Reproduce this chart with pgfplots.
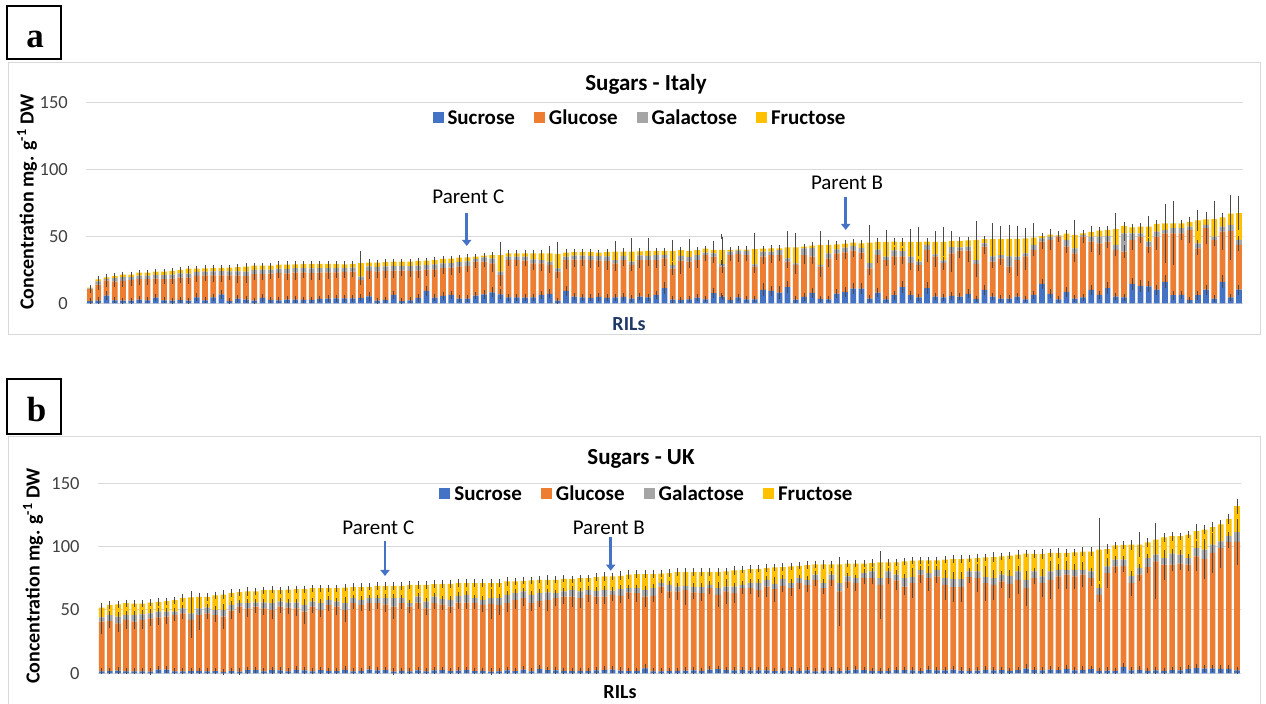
\documentclass[border=0pt]{standalone}
\usepackage{pgfplots}
\usepackage{pgfplotstable}
\pgfplotsset{compat=1.18}
\usetikzlibrary{arrows.meta}
\usepackage{fontspec}
\setmainfont{Carlito}
\newfontfamily\serifbold{Liberation Serif}
\definecolor{cSuc}{HTML}{4472C4}
\definecolor{cGlu}{HTML}{ED7D31}
\definecolor{cGal}{HTML}{A5A5A5}
\definecolor{cFru}{HTML}{FFC000}
\definecolor{cGrid}{HTML}{D9D9D9}
\definecolor{cErr}{HTML}{4A4A4A}
\definecolor{cRil}{HTML}{1F3864}
\definecolor{cTick}{HTML}{404040}

\pgfplotstableread{
i s g a f es eg ea ef
0 1.7 8.8 0.6 0.6 0.5 1.0 0.3 0.3
1 2.0 12.0 2.4 1.5 0.6 2.0 0.5 0.4
2 5.7 11.2 1.3 1.2 1.5 3.0 0.5 0.4
3 2.2 14.0 2.6 1.6 0.5 2.0 0.5 0.4
4 2.0 14.8 2.8 1.8 0.5 2.5 0.5 0.4
5 2.0 15.2 2.4 1.8 0.5 2.5 0.5 0.4
6 2.7 15.5 2.5 2.2 0.8 3.0 0.5 0.4
7 2.2 15.8 2.6 2.3 0.5 2.5 0.5 0.4
8 4.2 14.2 2.8 2.4 1.0 2.5 0.5 0.5
9 2.2 15.9 2.9 2.6 0.5 2.0 0.5 0.5
10 2.0 16.4 3.0 2.7 0.5 2.0 0.5 0.5
11 2.5 16.6 3.2 2.6 0.6 2.5 0.6 0.5
12 2.0 17.2 3.0 3.7 0.5 3.0 0.5 0.5
13 4.5 16.0 3.0 2.4 1.2 3.0 0.5 0.5
14 2.2 18.6 2.8 2.5 0.5 2.5 0.5 0.5
15 4.5 16.3 3.0 2.6 1.0 3.0 0.5 0.5
16 6.7 14.2 3.1 2.4 1.5 3.5 0.6 0.5
17 1.7 19.2 3.0 2.7 0.4 2.0 0.5 0.5
18 3.5 17.2 3.2 3.0 1.0 3.5 0.6 0.5
19 2.7 17.6 3.3 3.8 0.6 3.0 0.6 0.6
20 2.0 19.8 3.2 3.1 0.5 2.5 0.5 0.5
21 4.0 17.8 3.4 2.9 1.0 3.0 0.6 0.5
22 2.5 19.7 3.0 2.9 0.5 2.5 0.5 0.5
23 2.2 20.5 3.2 3.0 0.5 2.0 0.5 0.5
24 2.7 19.6 3.4 3.2 0.6 3.0 0.6 0.5
25 2.7 20.2 3.3 2.9 0.6 3.5 0.6 0.5
26 2.5 20.5 3.3 3.1 0.6 2.5 0.6 0.5
27 2.5 20.0 3.5 3.4 0.6 3.0 0.6 0.6
28 3.2 19.6 3.4 3.2 0.8 3.5 0.6 0.5
29 3.5 19.5 3.3 3.1 0.8 3.0 0.6 0.5
30 3.7 19.3 3.2 3.2 0.8 2.5 0.6 0.5
31 3.7 19.8 3.0 2.6 0.8 2.5 0.6 0.5
32 3.7 19.9 3.1 2.7 0.8 2.5 0.6 0.5
33 4.0 13.4 2.5 10.0 0.8 2.0 1.0 7.0
34 5.2 19.0 3.3 2.8 1.5 4.0 0.6 0.6
35 2.0 21.8 3.4 3.1 0.5 3.0 0.6 0.5
36 2.5 21.6 3.5 3.2 0.6 3.5 0.6 0.5
37 6.2 18.1 3.6 3.2 1.5 3.5 0.6 0.5
38 1.7 22.6 3.6 3.2 0.4 2.5 0.6 0.5
39 2.2 21.9 3.7 3.3 0.5 2.5 0.6 0.5
40 4.0 20.3 3.8 3.5 1.0 3.5 0.6 0.6
41 9.2 16.0 3.4 3.2 2.0 3.0 0.6 0.5
42 4.2 21.2 3.6 3.3 1.0 4.0 0.6 0.5
43 5.5 20.8 3.5 3.3 1.5 3.0 0.6 0.5
44 6.2 20.4 3.4 3.3 1.5 3.5 0.6 0.5
45 3.5 24.0 3.3 3.3 0.8 3.0 0.6 0.5
46 3.5 24.3 3.4 3.1 0.8 3.0 0.6 0.5
47 5.7 25.3 2.2 1.6 1.0 3.0 0.6 0.5
48 6.7 24.3 3.3 1.3 1.5 2.5 0.6 0.5
49 8.2 21.6 3.8 2.4 2.0 5.0 0.8 0.6
50 6.7 14.3 2.6 12.4 2.0 6.0 1.0 8.0
51 4.5 27.8 2.5 2.5 0.8 3.0 0.6 0.5
52 4.5 27.8 2.5 2.5 0.8 2.5 0.6 0.5
53 4.2 27.6 3.0 2.5 0.8 2.0 0.6 0.5
54 4.5 25.3 3.0 4.5 0.8 3.0 0.6 0.8
55 6.2 23.6 2.5 5.0 1.5 4.0 0.6 1.0
56 7.0 21.6 2.5 6.2 1.5 4.0 0.8 4.0
57 2.0 21.6 2.4 10.8 0.5 3.0 0.6 7.0
58 9.2 23.1 2.5 3.0 2.0 5.0 0.6 0.6
59 5.0 27.5 3.0 2.6 1.0 4.0 0.6 0.5
60 4.5 28.3 2.7 2.8 0.8 3.0 0.6 0.5
61 4.0 28.3 3.0 3.0 0.8 4.0 0.6 0.5
62 4.7 27.3 3.2 2.6 1.0 3.0 0.6 0.5
63 4.0 27.5 3.6 3.0 0.8 5.0 0.6 0.5
64 4.5 25.3 2.5 6.3 1.0 4.0 0.6 6.0
65 4.7 27.6 3.0 3.3 1.0 3.0 0.6 0.5
66 3.5 25.1 2.5 7.5 0.8 3.0 0.6 8.0
67 5.0 27.3 3.5 3.0 1.0 4.0 0.6 0.5
68 4.5 27.8 3.0 3.8 1.0 3.0 0.6 8.0
69 6.2 26.1 3.6 3.2 1.5 4.0 0.6 0.5
70 11.4 22.2 2.6 2.9 3.0 4.0 0.6 0.5
71 2.7 23.3 2.6 10.5 0.6 3.0 0.6 6.0
72 2.5 29.4 3.4 4.3 0.6 8.0 0.6 0.8
73 3.0 28.1 3.6 4.4 0.6 3.0 0.6 7.0
74 4.2 28.1 3.6 3.7 1.0 4.0 0.6 0.6
75 3.0 33.0 1.8 3.0 0.6 3.0 0.6 0.5
76 7.5 27.3 2.5 2.5 2.0 3.0 0.6 5.0
77 5.0 22.4 2.0 10.4 1.0 3.0 0.6 10.0
78 2.5 33.5 2.5 1.3 0.6 3.0 0.6 0.5
79 4.5 32.3 2.5 0.8 1.0 4.0 0.6 0.5
80 3.0 33.0 3.2 0.9 0.6 3.0 0.6 0.5
81 3.0 24.4 1.7 11.4 0.6 3.0 0.6 10.0
82 10.0 24.8 3.8 2.2 3.0 4.0 0.8 0.5
83 9.2 26.8 2.5 2.5 2.0 4.0 0.6 0.5
84 8.0 28.0 3.7 1.3 3.0 3.0 0.6 0.5
85 12.0 19.0 2.6 8.2 2.5 3.0 0.6 10.0
86 2.7 25.9 1.2 12.0 0.6 5.0 0.6 9.0
87 4.7 31.3 5.0 1.3 1.0 5.0 0.8 0.5
88 7.7 27.2 6.2 1.9 2.0 4.0 1.0 0.6
89 3.2 24.2 1.2 14.9 0.8 6.0 0.6 9.0
90 3.0 30.6 3.7 6.2 0.6 5.0 0.6 2.0
91 7.2 30.1 3.0 3.7 1.5 3.0 0.6 0.8
92 8.5 29.5 3.5 3.0 2.0 3.0 0.8 0.6
93 11.0 28.3 3.5 2.5 2.0 3.0 0.8 0.6
94 11.0 26.8 3.3 3.7 2.0 3.0 0.8 0.8
95 3.5 22.5 4.0 15.3 0.8 3.0 0.8 11.0
96 8.0 28.0 4.0 5.8 1.5 4.0 0.8 1.0
97 3.0 29.3 2.5 11.0 0.6 3.0 0.6 7.0
98 6.0 29.0 4.5 6.5 1.5 5.0 0.8 1.0
99 12.0 23.0 4.0 6.8 2.5 4.0 0.8 1.0
100 6.0 24.0 4.8 11.0 1.5 3.0 0.8 8.0
101 4.5 24.1 2.4 14.8 1.0 3.0 0.6 9.0
102 11.4 28.4 3.7 2.5 2.5 7.0 0.8 0.6
103 5.0 30.0 1.5 9.3 1.0 6.0 0.6 6.0
104 4.5 25.5 2.0 13.8 1.0 3.0 0.6 9.0
105 5.5 31.8 4.7 4.5 1.0 12.0 0.8 6.0
106 5.0 34.3 2.5 4.7 1.0 4.0 0.6 1.0
107 7.0 32.3 3.0 4.7 1.5 7.0 0.6 1.0
108 3.2 26.2 2.9 15.0 0.8 8.0 0.6 12.0
109 10.0 32.3 2.5 3.0 2.0 4.0 0.6 0.6
110 5.0 26.0 4.0 12.8 1.0 3.0 0.8 10.0
111 3.5 30.1 2.4 11.8 0.8 3.0 0.6 8.0
112 3.5 23.9 7.6 13.0 0.8 3.0 1.5 9.0
113 5.0 27.3 2.5 13.2 1.0 10.0 0.6 8.0
114 3.0 32.0 2.3 11.2 0.6 8.0 0.6 6.0
115 6.2 33.6 3.7 5.5 1.5 3.0 0.8 9.0
116 14.4 31.6 2.5 1.7 2.0 4.0 0.6 0.5
117 7.0 40.3 2.5 1.4 1.5 6.0 0.6 0.5
118 3.0 46.8 0.5 0.4 0.6 2.0 0.3 0.3
119 8.5 33.8 5.0 4.7 2.0 3.0 0.8 1.0
120 3.5 33.8 3.7 10.0 0.8 5.0 0.8 9.0
121 4.5 45.3 1.2 1.2 1.0 3.0 0.5 0.5
122 10.0 36.0 3.8 3.4 2.0 6.0 0.8 3.0
123 6.2 38.6 5.0 4.4 1.5 7.0 0.8 1.0
124 11.4 34.6 4.2 4.5 2.5 3.0 0.8 1.0
125 5.0 34.8 3.7 12.0 1.0 3.0 0.8 10.0
126 4.5 34.1 13.6 5.5 1.0 3.0 4.0 1.0
127 14.4 32.9 4.9 4.5 3.0 6.0 0.8 1.0
128 13.0 36.8 2.4 5.0 2.5 3.0 0.6 1.0
129 12.7 29.6 3.7 11.2 2.5 3.0 0.8 6.0
130 10.2 39.6 3.7 5.7 2.0 8.0 0.8 1.0
131 16.0 36.2 2.5 5.0 3.0 20.0 0.6 1.0
132 6.0 46.2 3.8 3.7 1.5 22.0 0.8 1.0
133 6.2 46.0 3.8 3.7 1.5 3.0 0.8 1.0
134 2.5 52.2 2.5 3.5 0.6 8.0 0.6 1.0
135 6.0 35.0 3.8 17.1 1.5 3.0 0.8 6.0
136 10.2 45.8 2.5 4.2 2.0 10.0 0.6 1.0
137 3.5 43.8 2.5 13.1 0.8 3.0 0.6 12.0
138 16.0 37.5 3.7 7.0 3.0 12.0 0.8 1.0
139 4.5 49.5 4.5 8.4 1.0 20.0 0.8 12.0
140 10.2 33.3 3.8 19.9 2.0 3.0 0.8 11.0
}\dataA

\pgfplotstableread{
i s g a f es eg ea ef
0 1.5 39.2 3.5 7.7 0.5 8.0 1.5 2.0
1 1.8 39.5 4.7 8.0 0.5 4.0 1.2 1.0
2 2.2 37.2 5.3 9.8 0.8 5.0 1.5 1.0
3 1.5 40.6 3.9 9.3 0.5 5.0 1.2 1.0
4 1.5 39.2 5.3 9.0 0.5 4.0 1.2 1.0
5 1.6 40.5 4.5 8.4 0.5 5.0 1.2 1.0
6 1.4 42.0 4.0 8.4 0.5 4.0 1.2 1.0
7 2.8 41.4 4.5 7.6 0.8 4.0 1.2 1.5
8 2.9 41.8 4.0 8.2 0.8 4.0 1.2 1.0
9 1.6 44.4 2.7 9.0 0.5 3.0 1.0 1.0
10 1.5 45.9 3.9 8.2 0.5 3.0 1.0 1.0
11 1.8 40.3 5.3 12.6 0.5 12.0 1.5 3.0
12 2.0 44.0 5.3 9.0 0.6 10.0 1.2 1.5
13 1.5 45.9 4.5 8.4 0.5 3.0 1.2 1.0
14 1.7 44.3 4.0 11.6 0.5 4.0 1.2 1.0
15 1.2 43.5 5.3 12.2 0.4 8.0 1.2 1.5
16 1.8 47.7 4.5 9.5 0.5 5.0 1.2 1.0
17 1.4 51.2 2.7 8.7 0.5 3.0 1.0 1.0
18 2.5 48.8 4.0 9.3 0.8 5.0 1.2 1.5
19 2.6 50.0 3.2 8.8 0.8 3.0 1.0 1.0
20 1.5 49.8 4.5 9.8 0.5 3.0 1.2 1.0
21 2.5 47.5 5.3 10.6 0.8 5.0 1.2 1.0
22 2.4 50.2 4.0 9.0 0.8 3.0 1.2 1.0
23 1.6 50.3 3.9 10.3 0.5 3.0 1.0 1.0
24 2.7 48.6 4.5 10.6 0.8 4.0 1.2 1.0
25 2.4 46.3 5.3 12.4 0.8 8.0 1.2 1.0
26 1.5 51.1 4.0 10.6 0.5 3.0 1.0 1.0
27 2.5 47.5 5.3 11.9 0.8 4.0 1.2 1.0
28 2.0 52.0 3.9 9.3 0.6 3.0 1.0 1.0
29 1.8 50.8 4.0 10.6 0.5 5.0 1.0 1.0
30 2.7 47.3 5.3 12.4 0.8 8.0 1.2 1.0
31 1.5 53.8 4.0 8.7 0.5 3.0 1.0 1.0
32 2.0 52.0 3.9 10.1 0.6 3.0 1.0 1.0
33 2.8 52.5 4.0 9.0 0.8 4.0 1.0 1.0
34 2.4 52.9 4.0 9.7 0.8 3.0 1.0 1.0
35 2.6 51.9 4.8 9.7 0.8 4.0 1.2 1.0
36 1.4 51.2 6.7 9.7 0.5 8.0 1.5 1.0
37 2.0 53.3 4.0 9.7 0.6 3.0 1.0 1.0
38 1.6 51.0 2.7 14.5 0.5 3.0 1.0 1.0
39 2.3 53.5 4.8 9.2 0.8 3.0 1.2 1.0
40 1.5 49.8 5.3 13.2 0.5 3.0 1.2 1.0
41 2.4 52.9 5.3 9.8 0.8 3.0 1.2 1.0
42 2.6 51.9 4.0 12.1 0.8 3.0 1.0 1.0
43 1.8 50.8 5.3 12.7 0.5 3.0 1.2 1.0
44 2.2 53.6 5.3 10.1 0.6 3.0 1.2 1.0
45 2.6 53.2 6.1 9.3 0.8 3.0 1.2 1.0
46 1.8 53.5 4.0 11.9 0.5 3.0 1.0 1.0
47 2.0 52.0 3.9 13.3 0.6 4.0 1.0 1.5
48 1.4 53.4 4.5 11.9 0.5 10.0 1.2 1.5
49 1.6 52.4 5.3 11.9 0.5 6.0 1.2 1.0
50 2.3 53.0 6.6 10.6 0.8 5.0 1.5 2.0
51 1.7 56.2 5.3 9.3 0.5 5.0 1.2 1.0
52 2.8 56.5 5.3 8.4 0.8 4.0 1.2 1.0
53 1.5 53.8 6.6 11.4 0.5 4.0 1.5 1.0
54 3.5 53.6 6.1 10.6 1.0 3.0 1.2 1.0
55 2.6 55.3 5.9 10.0 0.8 7.0 1.2 2.0
56 2.3 57.0 3.9 10.6 0.8 4.0 1.0 1.0
57 1.9 58.7 4.0 10.0 0.5 4.0 1.0 1.0
58 1.7 58.9 5.3 8.4 0.5 6.0 1.2 1.0
59 2.0 57.3 5.3 10.5 0.6 6.0 1.2 1.0
60 1.8 60.1 4.0 9.2 0.5 4.0 1.0 1.0
61 2.4 58.2 4.5 10.8 0.8 4.0 1.2 1.0
62 2.7 57.9 5.3 10.6 0.8 4.0 1.2 1.5
63 2.8 59.1 3.4 11.2 0.8 3.0 1.0 1.0
64 2.2 58.9 5.3 10.6 0.8 4.0 1.2 1.5
65 1.8 62.0 3.4 10.6 0.5 3.0 1.0 1.5
66 1.9 61.3 4.0 11.1 0.5 5.0 1.0 1.0
67 3.8 56.8 5.3 12.4 1.5 6.0 1.2 1.0
68 1.6 59.5 6.1 11.1 0.5 3.0 1.5 1.0
69 1.5 67.0 2.7 7.4 0.5 3.0 1.0 1.0
70 1.7 62.9 5.2 9.3 0.5 3.0 1.2 1.0
71 1.9 62.7 3.9 11.4 0.5 5.0 1.0 1.0
72 2.1 63.8 3.1 10.9 0.6 10.0 1.0 1.0
73 2.3 61.5 4.2 11.9 0.8 3.0 1.2 1.0
74 2.0 61.2 4.8 11.9 0.6 4.0 1.2 1.5
75 2.8 64.4 2.6 10.1 0.8 3.0 1.0 1.5
76 3.2 58.7 5.3 12.7 1.0 8.0 1.2 1.5
77 2.6 62.0 3.9 11.9 0.8 8.0 1.0 1.0
78 2.3 60.9 5.3 12.7 0.8 6.0 1.2 1.5
79 2.5 64.7 2.6 11.9 0.8 3.0 1.0 1.0
80 2.2 65.0 4.0 11.1 0.6 3.0 1.0 1.0
81 2.4 63.5 5.3 11.3 0.8 4.0 1.2 1.0
82 2.3 66.2 5.3 9.3 0.8 6.0 1.2 1.0
83 1.8 64.6 4.2 13.0 0.5 8.0 1.2 1.0
84 2.0 67.0 5.3 9.6 0.6 3.0 1.2 1.0
85 2.2 65.0 4.0 13.2 0.6 4.0 1.0 1.0
86 1.9 69.3 3.9 9.8 0.5 3.0 1.0 1.0
87 2.4 67.4 4.0 11.6 0.8 4.0 1.0 1.0
88 1.6 72.2 4.0 8.2 0.5 3.0 1.0 1.0
89 2.0 65.2 4.0 14.8 0.6 3.0 1.0 1.5
90 2.2 71.6 4.0 8.2 0.6 3.0 1.0 1.0
91 1.8 62.8 6.6 14.8 0.5 25.0 1.5 2.0
92 2.4 70.1 4.0 10.0 0.8 3.0 1.0 1.0
93 2.8 68.4 3.9 11.4 0.8 4.0 1.0 1.0
94 2.6 72.5 4.0 7.4 0.8 3.0 1.0 1.0
95 2.0 73.1 5.3 6.6 0.6 3.0 1.2 1.0
96 1.8 68.0 5.3 12.5 0.5 25.0 1.2 1.0
97 1.9 73.2 5.3 7.2 0.5 3.0 1.2 1.0
98 2.6 70.7 4.5 9.8 0.8 6.0 1.2 1.0
99 2.6 65.9 6.6 13.3 0.8 5.0 1.5 1.0
100 2.4 68.8 4.7 13.0 0.8 10.0 1.2 1.0
101 1.8 76.0 3.9 7.5 0.5 5.0 1.0 1.0
102 2.8 72.3 4.0 10.1 0.8 8.0 1.0 1.0
103 2.4 74.1 5.2 7.5 0.8 3.0 1.2 1.0
104 2.3 67.5 5.3 14.6 0.8 10.0 1.2 1.0
105 2.9 65.1 6.3 15.9 0.8 10.0 1.5 1.0
106 2.2 65.8 6.3 15.9 0.8 10.0 1.5 1.0
107 2.0 73.9 4.5 10.1 0.6 3.0 1.2 1.0
108 2.2 72.9 5.3 10.6 0.8 9.0 1.2 1.5
109 2.7 68.5 4.7 15.6 0.8 12.0 1.2 1.0
110 2.3 67.5 5.3 16.7 0.8 10.0 1.2 2.0
111 2.5 70.0 5.3 14.5 0.8 3.0 1.2 1.0
112 2.0 68.6 6.4 15.9 0.6 9.0 1.5 1.0
113 2.6 71.2 6.6 13.3 0.8 9.0 1.5 1.5
114 3.6 63.6 6.6 20.6 1.5 12.0 1.5 1.0
115 2.5 72.6 5.3 13.8 0.8 3.0 1.2 1.0
116 2.3 68.9 5.3 17.7 0.8 9.0 1.2 2.0
117 2.9 70.9 6.6 14.6 0.8 13.0 1.5 1.0
118 2.6 73.9 5.2 13.3 0.8 8.0 1.2 2.0
119 3.5 74.3 3.9 13.3 1.5 9.0 1.0 1.0
120 2.4 74.1 5.2 13.8 0.8 8.0 1.2 1.0
121 2.7 75.1 3.9 14.3 0.8 8.0 1.0 1.5
122 3.2 71.9 5.3 15.6 1.0 4.0 1.2 1.5
123 2.0 59.9 5.3 30.4 0.6 4.0 1.5 23.0
124 2.2 76.9 5.3 13.7 0.6 10.0 1.2 2.0
125 2.0 82.4 5.3 11.3 0.6 3.0 1.2 1.0
126 5.0 79.9 4.8 11.6 1.5 3.0 1.2 1.0
127 2.4 68.8 5.8 24.6 0.8 8.0 1.5 2.0
128 2.7 75.1 5.3 18.5 0.8 3.0 1.2 8.0
129 2.0 81.9 7.1 12.4 0.6 3.0 1.5 1.5
130 2.4 86.0 5.3 11.9 0.8 28.0 1.2 2.0
131 1.9 83.8 5.3 16.4 0.6 10.0 1.2 1.5
132 2.6 83.1 8.7 13.8 0.8 3.0 2.0 1.5
133 2.4 84.1 7.2 14.5 0.8 3.0 1.5 1.0
134 3.5 82.2 5.3 18.5 1.0 3.0 1.2 1.0
135 4.0 88.3 6.6 13.3 1.5 10.0 1.5 4.0
136 3.6 86.6 7.4 15.9 1.0 14.0 1.5 2.0
137 3.8 91.2 6.6 13.7 1.0 14.0 1.5 2.0
138 3.5 95.4 5.3 13.3 1.0 14.0 1.2 1.5
139 3.4 100.3 4.5 13.8 1.0 3.0 1.2 2.0
140 2.4 101.3 7.7 20.6 0.8 16.0 2.0 4.0
}\dataB

\pgfplotsset{
  panel/.style={
    scale only axis, ybar stacked, bar width=0.7,
    xmin=-0.5, xmax=140.5, ymin=0, ymax=150,
    xtick=\empty, ytick={0,50,100,150},
    axis line style={draw=none},
    clip=false, anchor=south west,
  },
  shown/.style={
    ymajorgrids, grid style={color=cGrid, line width=1bp},
    tick align=outside, major tick length=18bp, ytick style={draw=none},
    /pgf/number format/assume math mode=true,
    yticklabel style={font=\fontsize{18.5bp}{18.5bp}\selectfont, text=cTick, anchor=east, inner sep=0pt},
    legend style={draw=none, fill=none, legend columns=4, anchor=center,
      font=\bfseries\fontsize{21bp}{21bp}\selectfont,
      column sep=0bp, nodes={inner xsep=4bp, inner ysep=0pt},
      /tikz/every even column/.append style={column sep=15bp}},
    legend image code/.code={\fill[##1] (0bp,-5.5bp) rectangle (11bp,5.5bp);},
  },
  errs/.style={
    hide axis, major tick length=0pt,
    error bars/y dir=both, error bars/y explicit,
    error bars/error bar style={draw=cErr, line width=0.9bp},
    error bars/error mark options={draw=cErr, line width=0.9bp, mark size=2.4bp},
  },
}

\begin{document}
\begin{tikzpicture}[x=1bp,y=1bp]
\useasboundingbox (0,0) rectangle (1266,704);
% frames
\draw[cGrid, line width=1bp] (8.3,641.7) rectangle (1260.3,369);
\draw[cGrid, line width=1bp] (8.3,267.3) rectangle (1260.7,-5);
\draw[black, line width=2bp] (6.7,644.7) rectangle (61,698.3);
\node[anchor=base, font=\serifbold\bfseries\fontsize{35bp}{35bp}\selectfont] at (35,656.7) {a};
\draw[black, line width=2bp] (6.7,270) rectangle (61,324.5);
\node[anchor=base, font=\serifbold\bfseries\fontsize{35bp}{35bp}\selectfont] at (36.5,282.3) {b};

% ---------- panel a ----------
\begin{axis}[panel, shown, at={(86bp,400.7bp)}, width=1157bp, height=201bp,
  legend style={at={(0.4797,0.922)}}]
\addplot[fill=cSuc, draw=none] table[x=i,y=s]{\dataA};
\addplot[fill=cGlu, draw=none] table[x=i,y=g]{\dataA};
\addplot[fill=cGal, draw=none] table[x=i,y=a]{\dataA};
\addplot[fill=cFru, draw=none] table[x=i,y=f]{\dataA};
\legend{Sucrose, Glucose, Galactose, Fructose}
\end{axis}
\begin{axis}[panel, errs, at={(86bp,400.7bp)}, width=1157bp, height=201bp]
\addplot[fill=none, draw=none] table[x=i,y=s,y error=es]{\dataA};
\addplot[fill=none, draw=none] table[x=i,y=g,y error=eg]{\dataA};
\addplot[fill=none, draw=none] table[x=i,y=a,y error=ea]{\dataA};
\addplot[fill=none, draw=none] table[x=i,y=f,y error=ef]{\dataA};
\end{axis}

% ---------- panel b ----------
\begin{axis}[panel, shown, at={(97.7bp,30.7bp)}, width=1143.3bp, height=190bp,
  legend style={at={(0.4813,0.9437)}}]
\addplot[fill=cSuc, draw=none] table[x=i,y=s]{\dataB};
\addplot[fill=cGlu, draw=none] table[x=i,y=g]{\dataB};
\addplot[fill=cGal, draw=none] table[x=i,y=a]{\dataB};
\addplot[fill=cFru, draw=none] table[x=i,y=f]{\dataB};
\legend{Sucrose, Glucose, Galactose, Fructose}
\end{axis}
\begin{axis}[panel, errs, at={(97.7bp,30.7bp)}, width=1143.3bp, height=190bp]
\addplot[fill=none, draw=none] table[x=i,y=s,y error=es]{\dataB};
\addplot[fill=none, draw=none] table[x=i,y=g,y error=eg]{\dataB};
\addplot[fill=none, draw=none] table[x=i,y=a,y error=ea]{\dataB};
\addplot[fill=none, draw=none] table[x=i,y=f,y error=ef]{\dataB};
\end{axis}

% ---------- texts ----------
\tikzset{ttl/.style={anchor=base, font=\bfseries\fontsize{23bp}{23bp}\selectfont},
  ylab/.style={rotate=90, font=\bfseries\fontsize{20bp}{20bp}\selectfont},
  xlab/.style={anchor=base, font=\bfseries\fontsize{20bp}{20bp}\selectfont},
  par/.style={anchor=base, font=\fontsize{21bp}{21bp}\selectfont},
  parr/.style={draw=cSuc, line width=2.8bp, -{Triangle[width=9bp,length=6bp]}}}
\node[ttl] at (646,613.3) {Sugars - Italy};
\node[ttl] at (641,239.7) {Sugars - UK};
\node[ylab] at (27,502) {Concentration mg. g\textsuperscript{-1} DW};
\node[ylab] at (33,128) {Concentration mg. g\textsuperscript{-1} DW};
\node[xlab, text=cRil] at (629,373.3) {RILs};
\node[xlab] at (620,5.7) {RILs};
\node[par] at (468.3,500) {Parent C};
\draw[parr] (466.7,491) -- (466.7,458);
\node[par] at (847,514) {Parent B};
\draw[parr] (845.7,507.3) -- (845.7,474);
\node[par] at (378.3,169) {Parent C};
\draw[parr] (385,163) -- (385,128);
\node[par] at (608.8,169) {Parent B};
\draw[parr] (610.7,166.7) -- (610.7,133.3);
\end{tikzpicture}
\end{document}
